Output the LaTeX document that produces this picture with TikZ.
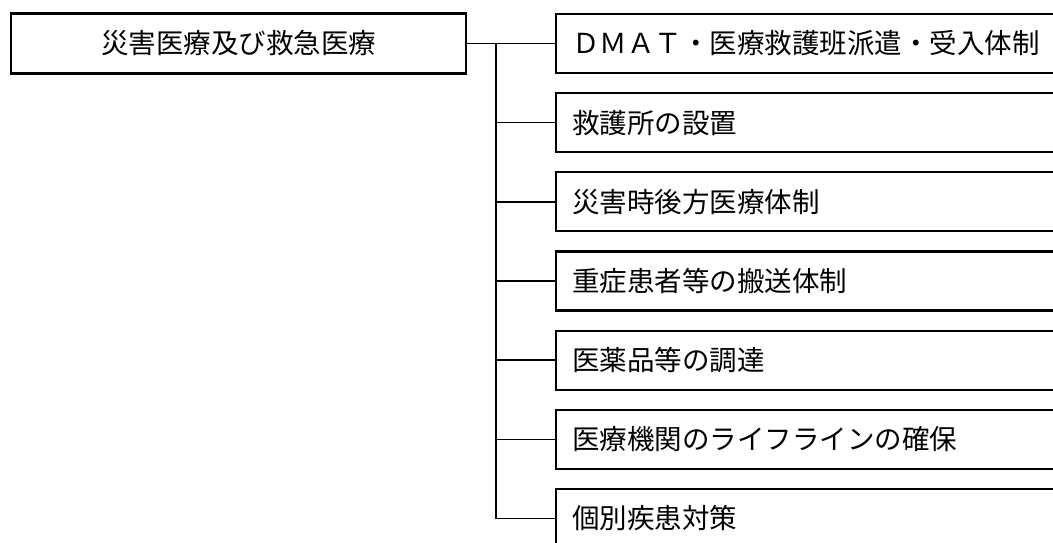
\documentclass[tikz,border=0pt]{standalone}
\usepackage{fontspec}
\newfontfamily\jpfont{Noto Sans CJK JP}
\usetikzlibrary{positioning}

\begin{document}
\begin{tikzpicture}[x=1pt, y=-1pt,
    rootblock/.style = {rectangle, draw=black, line width=2.2pt,
                        minimum width=455pt, minimum height=60pt, inner sep=0pt,
                        font=\jpfont\fontsize{27.5}{30}\selectfont},
    itemblock/.style = {rectangle, draw=black, line width=2.2pt, anchor=west,
                        minimum height=59pt, text width=500pt, inner xsep=16pt,
                        inner ysep=0pt, align=left,
                        font=\jpfont\fontsize{27.5}{30}\selectfont},
    conn/.style      = {line width=1.4pt, draw=black},
]

%% page frame
\fill[white] (0,0) rectangle (1053,543);
\useasboundingbox (0,0) rectangle (1053,543);

%% coordinates
\def\xRoot{238.5}
\def\xJoin{496}
\def\xItem{555}

%% root node
\node[rootblock] (root) at (\xRoot, 43.5) {災害医療及び救急医療};

%% item nodes
\node[itemblock] (dmat)     at (\xItem, 43.5)  {ＤＭＡＴ・医療救護班派遣・受入体制};
\node[itemblock] (kyugo)    at (\xItem, 122.6) {救護所の設置};
\node[itemblock] (kouhou)   at (\xItem, 201.8) {災害時後方医療体制};
\node[itemblock] (hanso)    at (\xItem, 280.9) {重症患者等の搬送体制};
\node[itemblock] (iyaku)    at (\xItem, 360.1) {医薬品等の調達};
\node[itemblock] (lifeline) at (\xItem, 439.2) {医療機関のライフラインの確保};
\node[itemblock] (kobetsu)  at (\xItem, 518.4) {個別疾患対策};

%% connections
\coordinate (join) at (\xJoin, 43.5);
\draw[conn] (root.east) -- (dmat.west);
\draw[conn] (join) |- (kyugo.west);
\draw[conn] (join) |- (kouhou.west);
\draw[conn] (join) |- (hanso.west);
\draw[conn] (join) |- (iyaku.west);
\draw[conn] (join) |- (lifeline.west);
\draw[conn] (join) |- (kobetsu.west);

\end{tikzpicture}
\end{document}
